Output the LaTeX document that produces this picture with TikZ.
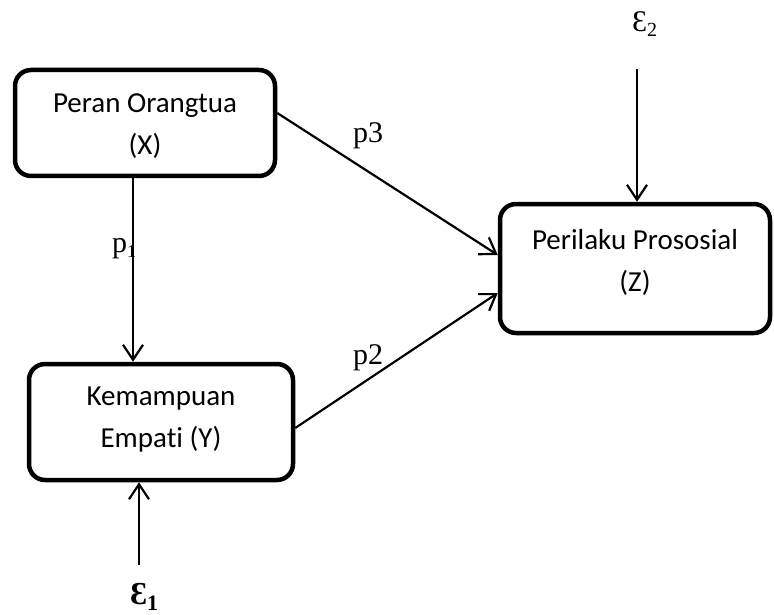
\documentclass[tikz,border=0pt]{standalone}
\usepackage{fontspec}
\setmainfont{Liberation Serif}
\newfontfamily\boxfont[Ligatures=NoCommon]{Carlito}
\usetikzlibrary{arrows.meta}
\tikzset{
 boxnode/.style={draw, line width=4.5pt, rounded corners=16pt, inner sep=0pt},
 boxtext/.style={align=center, font=\boxfont\fontsize{29}{42}\selectfont, inner sep=0pt},
 arr/.style={line width=2.2pt, -{Straight Barb[length=15pt,width=20pt]}},
 lbl/.style={font=\fontsize{30}{30}\selectfont, inner sep=0pt, anchor=base west},
}
\begin{document}
\begin{tikzpicture}[x=1pt,y=-1pt]
\useasboundingbox (0,0) rectangle (774,615);
\node[boxnode, minimum width=260pt, minimum height=106pt,
  label={[boxtext, yshift=-3.5pt]center:Peran Orangtua\\(X)}] (X) at (145,123) {};
\node[boxnode, minimum width=264pt, minimum height=116pt,
  label={[boxtext, yshift=2pt]center:Kemampuan\\Empati (Y)}] (Y) at (161,422) {};
\node[boxnode, minimum width=270pt, minimum height=129pt,
  label={[boxtext, yshift=6pt]center:Perilaku Prososial\\(Z)}] (Z) at (635,268.5) {};
\node[lbl] (p1) at (112,252) {p\raisebox{-5pt}{\fontsize{18}{18}\selectfont 1}};
\node[lbl] (p3) at (353,143) {p3};
\node[lbl] (p2) at (353,364) {p2};
\node[lbl] (e2) at (632,32) {Ɛ\raisebox{-5pt}{\fontsize{20}{20}\selectfont 2}};
\node[lbl, font=\bfseries\fontsize{32}{32}\selectfont] (e1) at (130,604) {Ɛ\raisebox{-6pt}{\fontsize{22}{22}\selectfont 1}};
\coordinate (e2s) at (637,69);
\coordinate (e1s) at (139,565);
\draw[arr] ([xshift=-12pt]X.south) -- ([xshift=-28pt]Y.north);
\draw[arr] ([yshift=10pt]X.east) -- ([yshift=13.5pt]Z.west);
\draw[arr] ([yshift=-6pt]Y.east) -- ([yshift=-24.5pt]Z.west);
\draw[arr] (e2s) -- (e2s |- Z.north);
\draw[arr] (e1s) -- (e1s |- Y.south);
\end{tikzpicture}
\end{document}
